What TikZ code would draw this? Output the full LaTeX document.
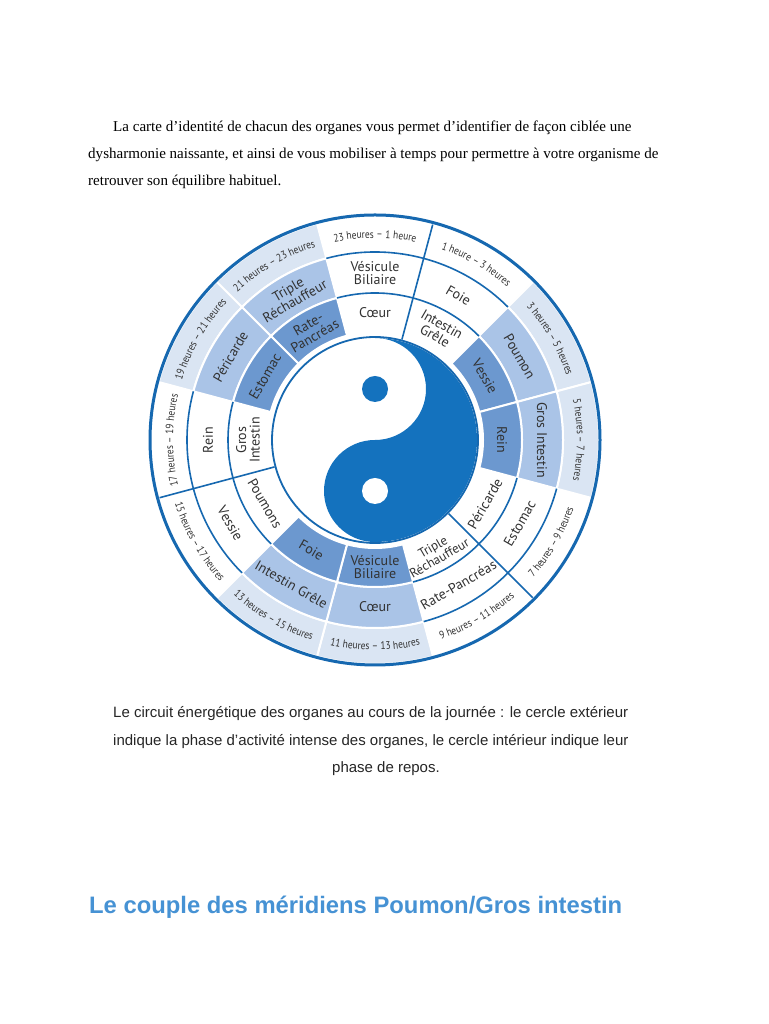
\documentclass[tikz,border=0pt]{standalone}
\usepackage{fontspec}
\setmainfont{Liberation Serif}
\newfontfamily\capfont{Liberation Sans}
\newfontfamily\labfont[FakeStretch=0.86]{PT Sans}
\newfontfamily\orgfont{PT Sans}
\usetikzlibrary{decorations.text}
\definecolor{ybl}{RGB}{20,114,190}
\definecolor{rim}{RGB}{22,104,176}
\definecolor{shA}{RGB}{218,229,243}
\definecolor{shB}{RGB}{170,196,231}
\definecolor{shC}{RGB}{108,152,207}
\definecolor{txt}{RGB}{50,50,50}
\definecolor{head}{RGB}{70,146,212}
\tikzset{
  para/.style={anchor=base west, inner sep=0pt, font=\fontsize{15.05}{17}\selectfont, text=black},
  capline/.style={anchor=base west, inner sep=0pt, font=\capfont\fontsize{15}{17}\selectfont, text=black!85},
  headline/.style={anchor=base west, inner sep=0pt, font=\capfont\bfseries\fontsize{23.8}{26}\selectfont, text=head},
  orglab/.style={inner sep=0pt, align=center, text=txt, font=\orgfont\fontsize{14}{13.5}\selectfont},
  smalllab/.style={orglab, font=\orgfont\fontsize{13}{13}\selectfont},
  rimline/.style={draw=rim, line width=1.6pt},
  cellsep/.style={draw=white, line width=2pt}
}
\newcommand\cellsec[4]{\filldraw[fill=#4, cellsep] ({#1-15}:#2) arc[start angle={#1-15}, end angle={#1+15}, radius=#2] -- ({#1+15}:#3) arc[start angle={#1+15}, end angle={#1-15}, radius=#3] -- cycle;}
\newcommand\uplab[2]{\path[postaction={decorate}, decoration={text along path, text align=center, text={|\labfont\fontsize{11}{11}\selectfont\color{txt}|#2}}] ({#1+15}:202pt) arc[start angle={#1+15}, end angle={#1-15}, radius=202pt];}
\newcommand\lowlab[2]{\path[postaction={decorate}, decoration={text along path, text align=center, text={|\labfont\fontsize{11}{11}\selectfont\color{txt}|#2}}] ({#1-15}:210pt) arc[start angle={#1-15}, end angle={#1+15}, radius=210pt];}
\begin{document}
\begin{tikzpicture}[x=1pt,y=1pt]
\useasboundingbox (0,0) rectangle (768,1024);
\fill[white] (0,0) rectangle (768,1024);
% paragraph
\node[para] (p1) at (113,892) {La carte d’identité de chacun des organes vous permet d’identifier de façon ciblée une};
\node[para] (p2) at (88,865) {dysharmonie naissante, et ainsi de vous mobiliser à temps pour permettre à votre organisme de};
\node[para] (p3) at (88,838) {retrouver son équilibre habituel.};
% caption
\node[capline] (c1) at (113,306) {Le circuit énergétique des organes au cours de la journée : le cercle extérieur};
\node[capline] (c2) at (113,278) {indique la phase d’activité intense des organes, le cercle intérieur indique leur};
\node[capline] (c3) at (332,251) {phase de repos.};
% heading
\node[headline] (h1) at (89,110) {Le couple des méridiens Poumon/Gros intestin};
% wheel
\begin{scope}[shift={(375,584)}]
  \foreach \a in {30,0,-90,-120,150,120} {
    \cellsec{\a}{188pt}{224pt}{shA}
    \cellsec{\a}{147pt}{188pt}{shB}
    \cellsec{\a}{108pt}{147pt}{shC}
  }
  \foreach \s/\e in {45/105,-75/-15,165/225} {
    \draw[rimline] (\s:188pt) arc[start angle=\s, end angle=\e, radius=188pt];
    \draw[rimline] (\s:147pt) arc[start angle=\s, end angle=\e, radius=147pt];
  }
  \foreach \a in {75,-45,195} \draw[rimline] (\a:104pt) -- (\a:223pt);
  \draw[draw=rim, line width=3pt] (0,0) circle[radius=225pt];
  % yin yang
  \fill[ybl] (90:102pt) arc[start angle=90, end angle=-90, radius=102pt]
     arc[start angle=-90, end angle=-270, radius=51pt]
     arc[start angle=-90, end angle=90, radius=51pt] -- cycle;
  \fill[ybl] (0,51) circle[radius=13pt];
  \fill[white] (0,-51) circle[radius=13pt];
  \draw[draw=rim, line width=1.8pt] (0,0) circle[radius=103pt];
  % outer labels
  \uplab{90}{23 heures – 1 heure}
  \uplab{60}{1 heure – 3 heures}
  \uplab{30}{3 heures – 5 heures}
  \uplab{0}{5 heures – 7 heures}
  \uplab{180}{17 heures – 19 heures}
  \uplab{150}{19 heures – 21 heures}
  \uplab{120}{21 heures – 23 heures}
  \lowlab{-30}{7 heures – 9 heures}
  \lowlab{-60}{9 heures – 11 heures}
  \lowlab{-90}{11 heures – 13 heures}
  \lowlab{-120}{13 heures – 15 heures}
  \lowlab{-150}{15 heures – 17 heures}
  % middle ring
  \node[orglab, rotate=0]   (m90)  at (90:167pt)  {Vésicule\\Biliaire};
  \node[orglab, rotate=-30] (m60)  at (60:167pt)  {Foie};
  \node[orglab, rotate=-60] (m30)  at (30:167pt)  {Poumon};
  \node[orglab, rotate=-90] (m0)   at (0:167pt)   {Gros Intestin};
  \node[orglab, rotate=60]  (mm30) at (-30:167pt) {Estomac};
  \node[orglab, rotate=30]  (mm60) at (-60:167pt) {Rate-Pancréas};
  \node[orglab, rotate=0]   (mm90) at (-90:167pt) {Cœur};
  \node[orglab, rotate=-30] (mm120) at (-120:167pt) {Intestin Grêle};
  \node[orglab, rotate=-60] (mm150) at (-150:167pt) {Vessie};
  \node[orglab, rotate=90]  (m180) at (180:167pt) {Rein};
  \node[orglab, rotate=60]  (m150) at (150:167pt) {Péricarde};
  \node[orglab, rotate=30]  (m120) at (120:167pt) {Triple\\Réchauffeur};
  % inner ring
  \node[orglab, rotate=0]   (i90)  at (90:127pt)  {Cœur};
  \node[orglab, rotate=-30] (i60)  at (60:127pt)  {Intestin\\Grêle};
  \node[orglab, rotate=-60] (i30)  at (30:127pt)  {Vessie};
  \node[orglab, rotate=-90] (i0)   at (0:127pt)   {Rein};
  \node[orglab, rotate=60]  (im30) at (-30:127pt) {Péricarde};
  \node[smalllab, rotate=30] (im60) at (-61.5:128pt) {Triple\\Réchauffeur};
  \node[orglab, rotate=0]   (im90) at (-90:127pt) {Vésicule\\Biliaire};
  \node[orglab, rotate=-30] (im120) at (-120:127pt) {Foie};
  \node[orglab, rotate=-60] (im150) at (-150:127pt) {Poumons};
  \node[orglab, rotate=90]  (i180) at (180:127pt) {Gros\\Intestin};
  \node[orglab, rotate=60]  (i150) at (150:127pt) {Estomac};
  \node[orglab, rotate=30]  (i120) at (120:127pt) {Rate-\\Pancréas};
\end{scope}
\end{tikzpicture}
\end{document}
